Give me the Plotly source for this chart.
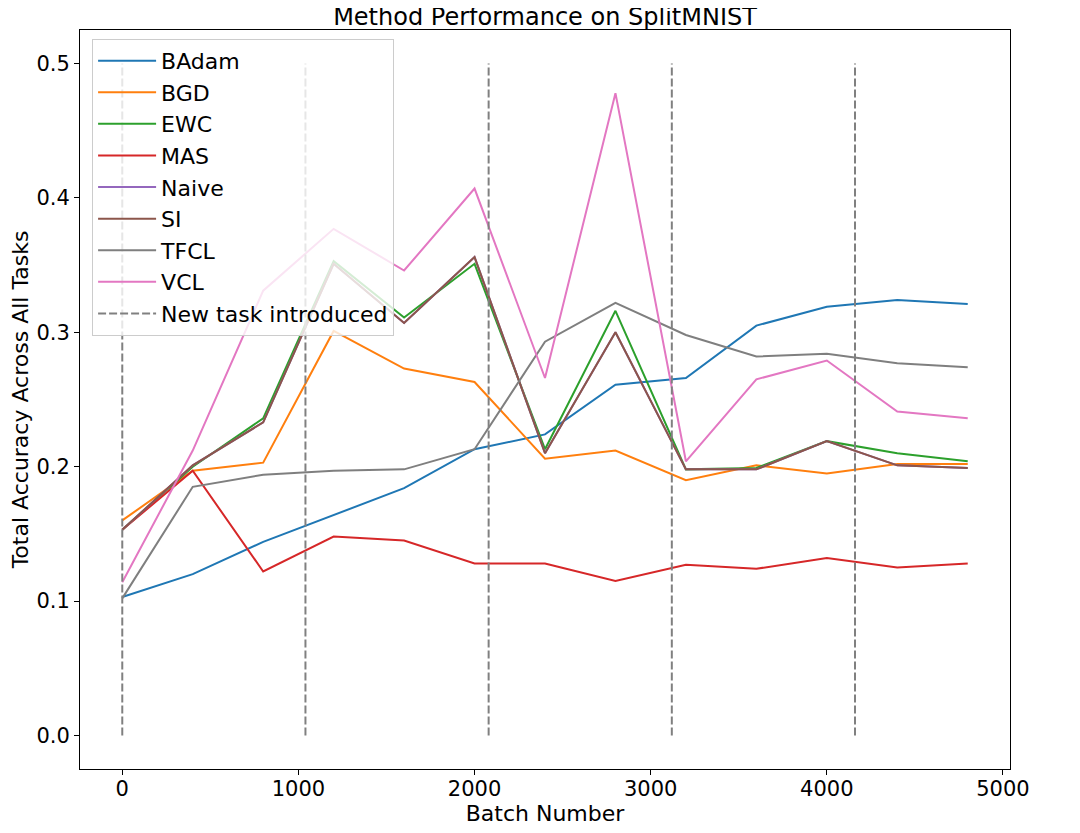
import plotly.graph_objects as go

# batch numbers where accuracy was evaluated
batches = [0, 400, 800, 1200, 1600, 2000, 2400, 2800, 3200, 3600, 4000, 4400, 4800]

badam = [0.103, 0.120, 0.144, 0.164, 0.184, 0.213, 0.224, 0.261, 0.266, 0.305, 0.319, 0.324, 0.321]
bgd = [0.160, 0.197, 0.203, 0.301, 0.273, 0.263, 0.206, 0.212, 0.190, 0.201, 0.195, 0.202, 0.202]
ewc = [0.153, 0.200, 0.236, 0.353, 0.311, 0.351, 0.213, 0.316, 0.198, 0.199, 0.219, 0.210, 0.204]
mas = [0.153, 0.197, 0.122, 0.148, 0.145, 0.128, 0.128, 0.115, 0.127, 0.124, 0.132, 0.125, 0.128]
naive = [0.153, 0.201, 0.233, 0.351, 0.307, 0.356, 0.210, 0.300, 0.198, 0.198, 0.219, 0.201, 0.199]
si = [0.153, 0.201, 0.233, 0.351, 0.307, 0.356, 0.210, 0.300, 0.198, 0.198, 0.219, 0.201, 0.199]
tfcl = [0.102, 0.185, 0.194, 0.197, 0.198, 0.213, 0.293, 0.322, 0.298, 0.282, 0.284, 0.277, 0.274]
vcl = [0.114, 0.212, 0.331, 0.377, 0.346, 0.407, 0.266, 0.478, 0.204, 0.265, 0.279, 0.241, 0.236]

# batches at which a new task starts
task_starts = [0, 1040, 2080, 3120, 4160]
task_line_top = 0.5

methods = [
    ("BAdam", badam, "#1f77b4"),
    ("BGD", bgd, "#ff7f0e"),
    ("EWC", ewc, "#2ca02c"),
    ("MAS", mas, "#d62728"),
    ("Naive", naive, "#9467bd"),
    ("SI", si, "#8c564b"),
    ("TFCL", tfcl, "#7f7f7f"),
    ("VCL", vcl, "#e377c2"),
]

FONT = "DejaVu Sans"

fig = go.Figure()

for name, vals, color in methods:
    fig.add_trace(
        go.Scatter(
            x=batches,
            y=vals,
            mode="lines",
            name=name,
            line=dict(color=color, width=2),
        )
    )

# vertical dashed markers, one trace so there is one legend entry
vx, vy = [], []
for t in task_starts:
    vx += [t, t, None]
    vy += [0, task_line_top, None]
fig.add_trace(
    go.Scatter(
        x=vx,
        y=vy,
        mode="lines",
        name="New task introduced",
        line=dict(color="#808080", width=2, dash="8px,3px"),
    )
)

axis_common = dict(
    showline=True,
    linecolor="black",
    linewidth=1,
    mirror=True,
    showgrid=False,
    zeroline=False,
    ticks="outside",
    ticklen=5,
    tickcolor="black",
    tickfont=dict(family=FONT, size=21, color="black"),
    automargin=False,
)

# page body adds an 8px offset, margins are set for that
fig.update_layout(
    width=1080,
    height=833,
    paper_bgcolor="white",
    plot_bgcolor="white",
    margin=dict(l=72, r=78, t=22, b=72),
    title=dict(
        text="Method Performance on SplitMNIST",
        font=dict(family=FONT, size=24, color="black"),
        x=(72 + 1002) / 2 / 1080,
        xanchor="center",
        y=1,
        yanchor="top",
        pad=dict(t=0),
    ),
    xaxis=dict(
        range=[-240, 5040],
        tickvals=[0, 1000, 2000, 3000, 4000, 5000],
        ticklabelstandoff=-4,
        title=dict(text="Batch Number", font=dict(family=FONT, size=22, color="black"), standoff=1),
        **axis_common,
    ),
    yaxis=dict(
        range=[-0.025, 0.525],
        tickvals=[0.0, 0.1, 0.2, 0.3, 0.4, 0.5],
        tickformat=".1f",
        title=dict(text="Total Accuracy Across All Tasks", font=dict(family=FONT, size=22, color="black"), standoff=8),
        **axis_common,
    ),
    legend=dict(
        x=0.013,
        y=0.988,
        xanchor="left",
        yanchor="top",
        bgcolor="rgba(255,255,255,0.8)",
        bordercolor="#cccccc",
        borderwidth=1,
        font=dict(family=FONT, size=22, color="black"),
        tracegroupgap=0,
        itemwidth=58,
    ),
    showlegend=True,
)

fig.write_html("out.html")
